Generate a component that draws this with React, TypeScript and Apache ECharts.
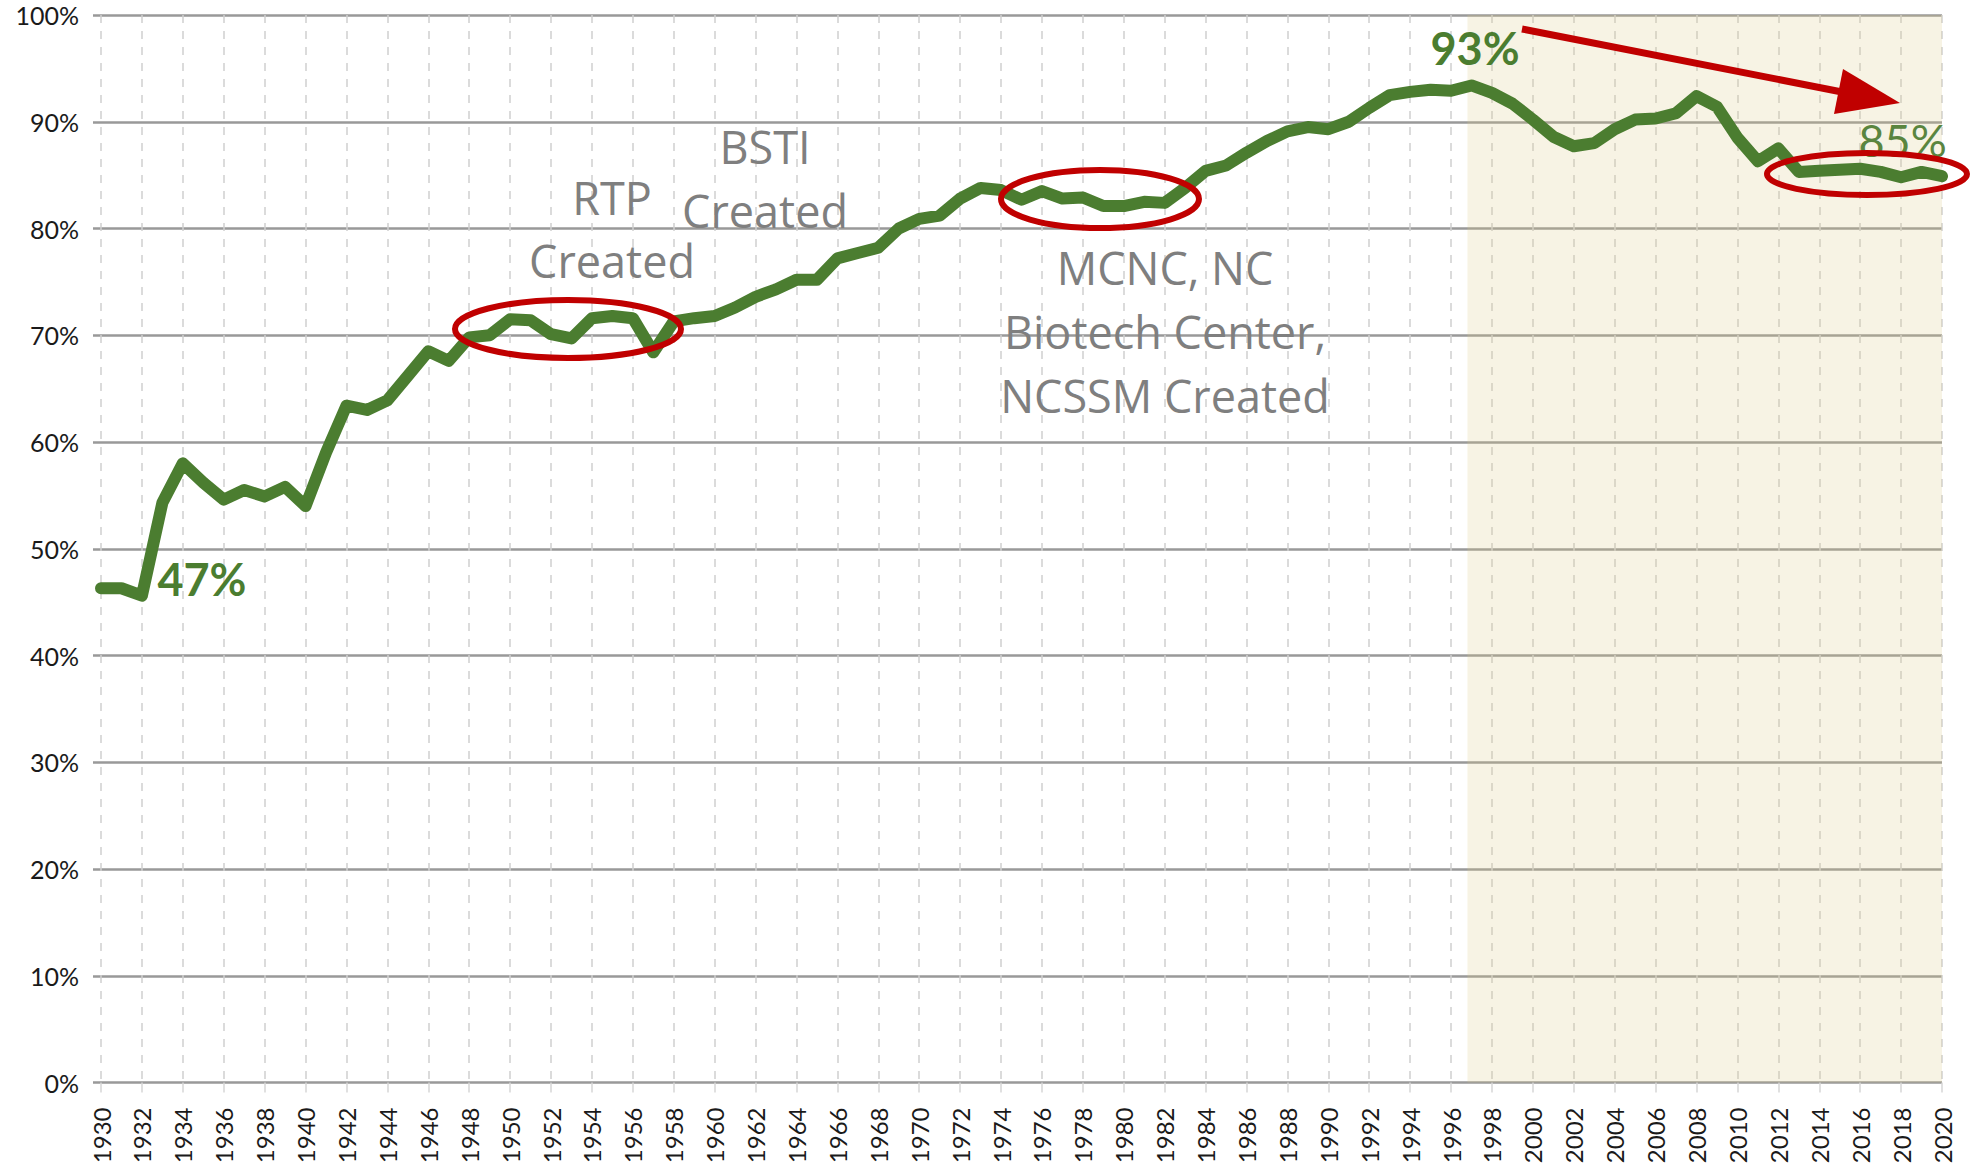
import React, { useEffect, useRef } from "react";
import * as echarts from "echarts";

// ---------- data ----------
const firstYear = 1930;
const lastYear = 2020;
const years: number[] = Array.from({ length: lastYear - firstYear + 1 }, (_, i) => firstYear + i);

// Share (%) per year
const rates: number[] = [
  46.3, 46.3, 45.6, 54.3, 58.0, 56.2, 54.6, 55.5, 54.9, 55.8, // 1930-1939
  54.0, 59.0, 63.4, 63.0, 63.9, 66.2, 68.5, 67.6, 69.8, 70.0, // 1940-1949
  71.5, 71.4, 70.1, 69.7, 71.6, 71.8, 71.6, 68.4, 71.3, 71.6, // 1950-1959
  71.8, 72.6, 73.6, 74.3, 75.2, 75.2, 77.2, 77.7, 78.2, 80.0, // 1960-1969
  80.9, 81.2, 82.8, 83.8, 83.6, 82.7, 83.5, 82.8, 82.9, 82.1, // 1970-1979
  82.1, 82.5, 82.4, 83.8, 85.4, 85.9, 87.1, 88.2, 89.1, 89.5, // 1980-1989
  89.3, 90.0, 91.3, 92.5, 92.8, 93.0, 92.9, 93.4, 92.7, 91.7, // 1990-1999
  90.2, 88.6, 87.7, 88.0, 89.3, 90.2, 90.3, 90.8, 92.4, 91.4, // 2000-2009
  88.5, 86.3, 87.5, 85.3, 85.4, 85.5, 85.6, 85.3, 84.8, 85.3, // 2010-2019
  84.9, // 2020
];

const yMin = 0;
const yMax = 100;
const yStep = 10;
const xStep = 2;

const shadedFrom = 1996.8;
const shadedTo = 2020;

const calloutYears = [1932, 1997, 2018];
const calloutTexts = ["47%", "93%", "85%"];

const noteTexts = ["RTP\nCreated", "BSTI\nCreated", "MCNC, NC\nBiotech Center,\nNCSSM Created"];

const valueAt = (yr: number) => rates[years.indexOf(yr)];

export default function App() {
  const ref = useRef<HTMLDivElement>(null);

  useEffect(() => {
    if (!ref.current) return;
    const chart = echarts.init(ref.current, null, { renderer: "svg" });

    const green = "#4B7D30";
    const red = "#C00000";
    const grayText = "#7F7F7F";

    const calloutStyles = [
      { position: [16, -16], align: "left", color: green, weight: "bold" },
      { position: [4, -37], align: "center", color: green, weight: "bold" },
      { position: [2, -37], align: "center", color: "#5A853F", weight: "normal" },
    ];

    const option: any = {
      animation: false,
      backgroundColor: "#ffffff",
      grid: [
        { left: 93, right: 35, top: 15, bottom: 85.5 },
        { left: 101, right: 35, top: 15, bottom: 85.5 },
      ],
      xAxis: [
        { gridIndex: 0, type: "value", min: 0, max: 1, show: false },
        {
          gridIndex: 1,
          type: "value",
          min: firstYear,
          max: lastYear,
          interval: xStep,
          axisLine: { show: false },
          axisTick: { show: true, length: 10, lineStyle: { color: "#d6d6d6", width: 1.5 } },
          axisLabel: {
            rotate: 90,
            margin: 25,
            fontSize: 24,
            fontFamily: "Lato",
            color: "#1a1a1a",
            formatter: (v: number) => String(v),
          },
          splitLine: {
            show: true,
            lineStyle: { color: "#cfcfcf", width: 1.5, type: [8, 8] },
          },
        },
      ],
      yAxis: [
        {
          gridIndex: 0,
          type: "value",
          min: yMin,
          max: yMax,
          interval: yStep,
          axisLine: { show: false },
          axisTick: { show: false },
          axisLabel: {
            margin: 14,
            fontSize: 25,
            fontFamily: "Lato",
            color: "#1a1a1a",
            formatter: "{value}%",
          },
          splitLine: { show: true, lineStyle: { color: "#999999", width: 2.5 } },
        },
        { gridIndex: 1, type: "value", min: yMin, max: yMax, show: false },
      ],
      series: [
        {
          type: "line",
          xAxisIndex: 1,
          yAxisIndex: 1,
          data: years.map((y, i) => [y, rates[i]]),
          symbol: "none",
          lineStyle: { color: green, width: 12, cap: "round", join: "round" },
          markArea: {
            silent: true,
            itemStyle: { color: "rgba(220,200,130,0.22)" },
            data: [[{ xAxis: shadedFrom }, { xAxis: shadedTo }]],
          },
          markPoint: {
            silent: true,
            symbol: "circle",
            symbolSize: 1,
            itemStyle: { color: "rgba(0,0,0,0)" },
            data: calloutYears.map((yr, i) => ({
              coord: [yr, valueAt(yr)],
              label: {
                show: true,
                formatter: calloutTexts[i],
                position: calloutStyles[i].position,
                align: calloutStyles[i].align,
                verticalAlign: "middle",
                color: calloutStyles[i].color,
                fontSize: 45,
                fontWeight: calloutStyles[i].weight,
                fontFamily: "Lato",
              },
            })),
          },
        },
      ],
      graphic: [
        {
          type: "text",
          x: 612,
          y: 166,
          z: 50,
          style: {
            text: noteTexts[0],
            fill: grayText,
            fontSize: 45,
            fontFamily: "Open Sans",
            align: "center",
            verticalAlign: "top",
            lineHeight: 63,
          },
        },
        {
          type: "text",
          x: 765,
          y: 114,
          z: 50,
          style: {
            text: noteTexts[1],
            fill: grayText,
            fontSize: 45,
            fontFamily: "Open Sans",
            align: "center",
            verticalAlign: "top",
            lineHeight: 64,
          },
        },
        {
          type: "text",
          x: 1165,
          y: 235,
          z: 50,
          style: {
            text: noteTexts[2],
            fill: grayText,
            fontSize: 45,
            fontFamily: "Open Sans",
            align: "center",
            verticalAlign: "top",
            lineHeight: 64,
          },
        },
        {
          type: "ellipse",
          z: 100,
          shape: { cx: 568, cy: 329, rx: 113, ry: 29 },
          style: { fill: "none", stroke: red, lineWidth: 6 },
        },
        {
          type: "ellipse",
          z: 100,
          shape: { cx: 1100, cy: 199, rx: 99, ry: 29 },
          style: { fill: "none", stroke: red, lineWidth: 6 },
        },
        {
          type: "ellipse",
          z: 100,
          shape: { cx: 1867, cy: 174, rx: 100, ry: 21 },
          style: { fill: "none", stroke: red, lineWidth: 6 },
        },
        {
          type: "line",
          z: 100,
          shape: { x1: 1522, y1: 29, x2: 1842, y2: 92 },
          style: { stroke: red, lineWidth: 7 },
        },
        {
          type: "polygon",
          z: 100,
          shape: { points: [[1900, 103], [1843, 69], [1834, 114]] },
          style: { fill: red },
        },
      ],
    };

    chart.setOption(option);
    return () => chart.dispose();
  }, []);

  return (
    <div
      ref={ref}
      style={{ position: "fixed", left: 0, top: 0, width: 1977, height: 1168, background: "#fff" }}
    />
  );
}
